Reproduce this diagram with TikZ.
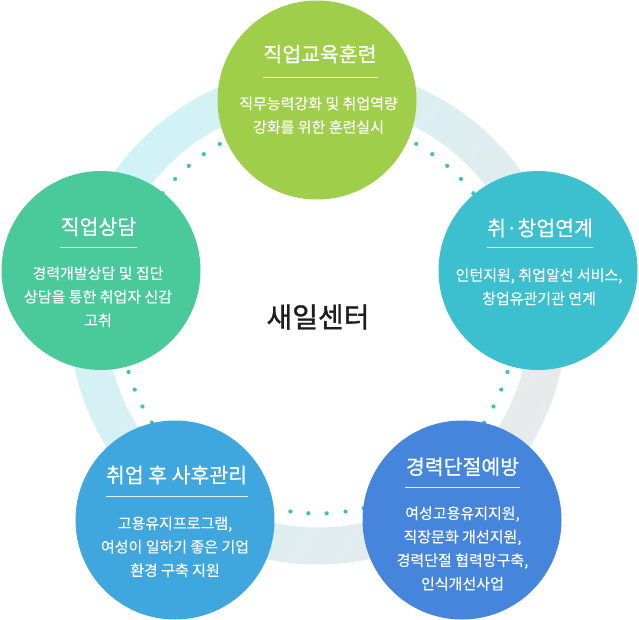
\documentclass[tikz,border=0pt]{standalone}
\usepackage{fontspec}
\setmainfont{Noto Sans CJK KR}
\newfontfamily\krtitle[FakeBold=0.6]{Noto Sans CJK KR}
\newfontfamily\krbody[FakeBold=0.2]{Noto Sans CJK KR}
\newfontfamily\krcenter[FakeBold=1.2]{Noto Sans CJK KR}
\definecolor{cTop}{HTML}{9FCF4A}
\definecolor{cLeft}{HTML}{4ACA9A}
\definecolor{cRight}{HTML}{3CBFCF}
\definecolor{cBL}{HTML}{40A6DE}
\definecolor{cBR}{HTML}{4585DC}
\definecolor{ringA}{HTML}{D0F3F7}
\definecolor{ringB}{HTML}{E8EAEB}
\definecolor{dTL}{HTML}{40C7A0}
\definecolor{dTR}{HTML}{3BC3B3}
\definecolor{dL}{HTML}{3FC6A0}
\definecolor{dR}{HTML}{3CBFCA}
\definecolor{dB}{HTML}{3CC1B4}
\definecolor{ctext}{HTML}{1E1E1E}
\begin{document}
\begin{tikzpicture}[x=1pt,y=-1pt,
  circ/.style={circle, minimum size=199pt, inner sep=0pt, draw=none},
  ttl/.style={text=white, inner sep=0pt, font=\krtitle\fontsize{20.5}{24}\selectfont},
  bdy/.style={text=white, align=center, inner sep=0pt, font=\krbody\fontsize{15}{23.5}\selectfont},
  sepline/.style={draw=white, line width=0.9pt, opacity=0.85},
  dotmark/.style={fill=#1}
]
\useasboundingbox (0,0) rectangle (639,620);
\fill[white] (0,0) rectangle (639,620);
% background ring
\shade[even odd rule, top color=ringA, bottom color=ringB, shading angle=60]
  (318,315.5) circle[radius=249pt] (318,315.5) circle[radius=212pt];
% dotted inner circle
\foreach \a in {119.8,125.3,130.8,136.3,141.8}
  \fill[dotmark=dTL] ({318+197.7*cos(\a)},{315.5-197.7*sin(\a)}) circle[radius=2.1pt];
\foreach \a in {60.2,54.7,49.2,43.7,38.2}
  \fill[dotmark=dTR] ({318+197.7*cos(\a)},{315.5-197.7*sin(\a)}) circle[radius=2.1pt];
\foreach \a in {196.6,202.0,207.4,212.8}
  \fill[dotmark=dL] ({318+197.7*cos(\a)},{315.5-197.7*sin(\a)}) circle[radius=2.1pt];
\foreach \a in {343.4,338.0,332.6,327.2}
  \fill[dotmark=dR] ({318+197.7*cos(\a)},{315.5-197.7*sin(\a)}) circle[radius=2.1pt];
\foreach \a in {262,267.2,272.5,278,283.3}
  \fill[dotmark=dB] ({318+198*cos(\a)},{315.5-198*sin(\a)}) circle[radius=2.1pt];
% circles
\node[circ, fill=cTop]   (ctop)   at (317,100)   {};
\node[circ, fill=cLeft]  (cleft)  at (101,270.5) {};
\node[circ, fill=cRight] (cright) at (538,270.5) {};
\node[circ, fill=cBL]    (cbl)    at (175,520)   {};
\node[circ, fill=cBR]    (cbr)    at (462,520)   {};
% center
\node[text=ctext, inner sep=0pt, font=\krcenter\fontsize{28}{32}\selectfont] (center) at (318,317) {새일센터};
% titles
\node[ttl] (ttop)   at (320,54)    {직업교육훈련};
\node[ttl] (tleft)  at (98.5,226.7) {직업상담};
\node[ttl] (tright) at (540,228)   {취·창업연계};
\node[ttl] (tbl)    at (176.5,475) {취업 후 사후관리};
\node[ttl] (tbr)    at (462.5,466.7) {경력단절예방};
% separator lines
\coordinate (ytop) at (0,77);
\coordinate (yleft) at (0,247.3);
\coordinate (yright) at (0,247.3);
\coordinate (ybl) at (0,496.7);
\coordinate (ybr) at (0,487.3);
\draw[sepline] (ttop.center |- ytop) ++(-57.5,0) -- ++(115,0);
\draw[sepline] (tleft.center |- yleft) ++(-38.5,0) -- ++(77,0);
\draw[sepline] (tright.center |- yright) ++(-53.3,0) -- ++(106.6,0);
\draw[sepline] (tbl.center |- ybl) ++(-71,0) -- ++(142,0);
\draw[sepline] (tbr.center |- ybr) ++(-57.5,0) -- ++(115,0);
% bodies
\node[bdy] (btop)   at (318.5,115.3) {직무능력강화 및 취업역량\\강화를 위한 훈련실시};
\node[bdy] (bleft)  at (98,296.8)    {경력개발상담 및 집단\\상담을 통한 취업자 신감\\고취};
\node[bdy] (bright) at (539,286.8)   {인턴지원, 취업알선 서비스,\\창업유관기관 연계};
\node[bdy] (bbl)    at (175,546.8)   {고용유지프로그램,\\여성이 일하기 좋은 기업\\환경 구축 지원};
\node[bdy] (bbr)    at (462.5,548.5) {여성고용유지지원,\\직장문화 개선지원,\\경력단절 협력망구축,\\인식개선사업};
\end{tikzpicture}
\end{document}
